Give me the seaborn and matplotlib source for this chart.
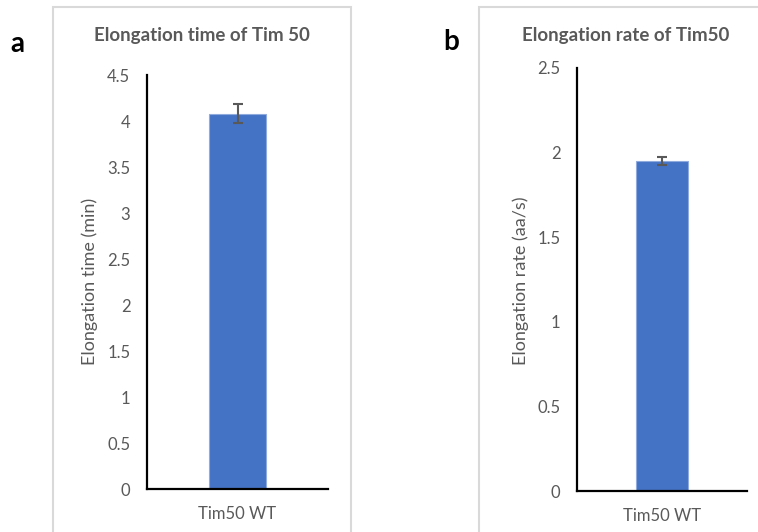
import numpy as np
import matplotlib
matplotlib.use("Agg")
import matplotlib.pyplot as plt
import seaborn as sns
from matplotlib.patches import Rectangle

# data
categories = ["Tim50 WT"]
time_mean = [4.08]
time_err = [0.10]
rate_mean = [1.95]
rate_err = [0.025]

W, H = 758, 532
BLUE = "#4472C4"
GREY = "#595959"

sns.set_theme(style="white")
plt.rcParams["font.family"] = ["Lato", "DejaVu Sans"]

fig = plt.figure(figsize=(W / 100, H / 100), dpi=100)


def px_axes(x0, y0, x1, y1):
    # pixel box (top-left origin) -> figure fraction
    return fig.add_axes([x0 / W, 1 - y1 / H, (x1 - x0) / W, (y1 - y0) / H])


def panel_box(x0, y0, x1, y1):
    fig.patches.append(Rectangle((x0 / W, 1 - y1 / H), (x1 - x0) / W, (y1 - y0) / H,
                                 transform=fig.transFigure, fill=False,
                                 edgecolor="#D9D9D9", linewidth=1.5))


def draw(ax, means, errs, ymax, step, title, ylabel, title_x, title_y, ylab_x):
    sns.barplot(x=categories, y=means, ax=ax, color=BLUE, width=0.31,
                saturation=1, edgecolor="#8FAADC", linewidth=0.8, errorbar=None)
    ax.errorbar(range(len(categories)), means, yerr=errs, fmt="none",
                ecolor=GREY, elinewidth=1.5, capsize=3.5, capthick=1.5)
    ax.set_xlim(-0.5, 0.5)
    ax.set_ylim(0, ymax)
    ticks = np.arange(0, ymax + step / 2, step)
    ax.set_yticks(ticks)
    ax.set_yticklabels(["%g" % t for t in ticks])
    ax.tick_params(axis="both", length=0, labelsize=12, labelcolor=GREY)
    ax.tick_params(axis="y", pad=12)
    ax.tick_params(axis="x", pad=12, labelsize=12)
    for side in ["top", "right"]:
        ax.spines[side].set_visible(False)
    for side in ["left", "bottom"]:
        ax.spines[side].set_color("black")
        ax.spines[side].set_linewidth(1.6)
    ax.set_xlabel("")
    ax.set_ylabel("")
    fig.text(title_x / W, 1 - title_y / H, title, ha="center", va="center",
             fontsize=13.5, fontweight="bold", color=GREY)
    fig.text(ylab_x / W, 1 - 281 / H, ylabel, ha="center", va="center",
             rotation=90, fontsize=13, color=GREY)


panel_box(53, 7, 351, 545)
panel_box(479, 7, 770, 545)

ax_a = px_axes(147, 75, 328, 489)
draw(ax_a, time_mean, time_err, 4.5, 0.5, "Elongation time of Tim 50",
     "Elongation time (min)", 202, 36, 90)

ax_b = px_axes(577, 68, 747, 491)
draw(ax_b, rate_mean, rate_err, 2.5, 0.5, "Elongation rate of Tim50",
     "Elongation rate (aa/s)", 626, 36, 521)

fig.text(17 / W, 1 - 44 / H, "a", ha="center", va="center", fontsize=20,
         fontweight="bold", color="black")
fig.text(451 / W, 1 - 42 / H, "b", ha="center", va="center", fontsize=20,
         fontweight="bold", color="black")

fig.savefig("out.png", dpi=100)
